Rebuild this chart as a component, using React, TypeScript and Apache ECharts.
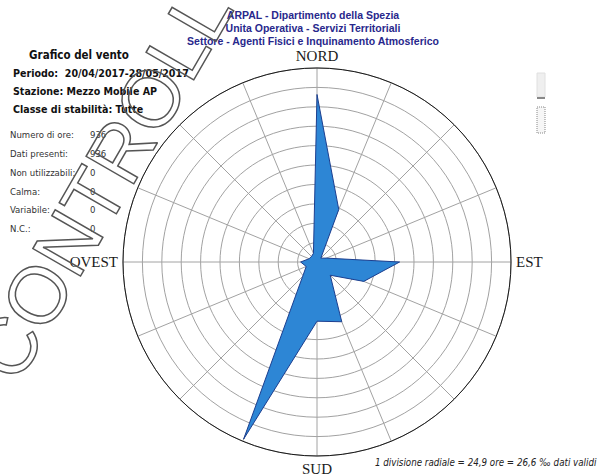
import React, { useEffect, useRef } from "react";
import * as echarts from "echarts";

// Wind rose: hours per sector (1 radial division = 24.9 hours)
const directions = ["N", "NNE", "NE", "ENE", "E", "ESE", "SE", "SSE", "S", "SSW", "SW", "WSW", "W", "WNW", "NW", "NNW"];
const sectorAngles = [0, 22.5, 45, 67.5, 90, 112.5, 135, 157.5, 180, 202.5, 225, 247.5, 270, 292.5, 315, 337.5];
const hoursPerSector = [215, 73, 7, 13, 106, 65, 24, 83, 76, 246, 26, 15, 21, 11, 10, 12];
const compassLabels: Record<number, string> = { 0: "NORD", 90: "EST", 180: "SUD", 270: "OVEST" };
const hoursPerDivision = 24.9;
const divisions = 10;

const headerLines = [
  "ARPAL - Dipartimento della Spezia",
  "Unita Operativa - Servizi Territoriali",
  "Settore - Agenti Fisici e Inquinamento Atmosferico",
];
const infoTitle = "Grafico del vento";
const infoBold = [
  "Periodo:  20/04/2017-28/05/2017",
  "Stazione: Mezzo Mobile AP",
  "Classe di stabilità: Tutte",
];
const statLabels = ["Numero di ore:", "Dati presenti:", "Non utilizzabili:", "Calma:", "Variabile:", "N.C.:"];
const statValues = ["936", "936", "0", "0", "0", "0"];
const footnote = "1 divisione radiale = 24,9 ore = 26,6 ‰ dati validi";

export default function App() {
  const ref = useRef<HTMLDivElement>(null);

  useEffect(() => {
    if (!ref.current) return;
    const chart = echarts.init(ref.current, null, { renderer: "svg" });

    const roseData = directions.map((_, i) => [hoursPerSector[i], sectorAngles[i]]);
    roseData.push([hoursPerSector[0], 360]);

    const sans = '"Liberation Sans", Arial, sans-serif';
    const tahoma = '"DejaVu Sans Condensed", "DejaVu Sans", sans-serif';

    const graphics: any[] = [];
    headerLines.forEach((t, i) => {
      graphics.push({
        type: "text",
        x: 313,
        y: 20 + i * 13,
        style: { text: t, fill: "#28288c", font: `bold 10.5px ${sans}`, textAlign: "center", textVerticalAlign: "bottom" },
      });
    });
    graphics.push({
      type: "text",
      x: 79,
      y: 61,
      style: { text: infoTitle, fill: "#111", font: `bold 11.5px ${tahoma}`, textAlign: "center", textVerticalAlign: "bottom" },
    });
    const boldY = [78, 96, 114];
    infoBold.forEach((t, i) => {
      graphics.push({
        type: "text",
        x: 13,
        y: boldY[i],
        style: { text: t, fill: "#111", font: `bold 10.6px ${tahoma}`, textAlign: "left", textVerticalAlign: "bottom" },
      });
    });
    const statY = [139, 158, 177, 196, 214, 233];
    statLabels.forEach((t, i) => {
      graphics.push({
        type: "text",
        x: 10,
        y: statY[i],
        style: { text: t, fill: "#333", font: `9.5px ${tahoma}`, textAlign: "left", textVerticalAlign: "bottom" },
      });
      graphics.push({
        type: "text",
        x: 90,
        y: statY[i],
        style: { text: statValues[i], fill: "#333", font: `9.5px ${tahoma}`, textAlign: "left", textVerticalAlign: "bottom" },
      });
    });
    graphics.push({
      type: "text",
      x: 375,
      y: 467,
      style: { text: footnote, fill: "#222", font: `italic 9.7px ${tahoma}`, textAlign: "left", textVerticalAlign: "bottom" },
    });
    // small window controls at the right edge
    graphics.push({ type: "rect", shape: { x: 537, y: 73, width: 8, height: 24 }, style: { fill: "#efefef", stroke: "#e0e0e0" } });
    graphics.push({ type: "rect", shape: { x: 537, y: 97, width: 8, height: 2 }, style: { fill: "#888" } });
    graphics.push({ type: "rect", shape: { x: 537, y: 107, width: 8, height: 26 }, style: { fill: "#f6f6f6", stroke: "#888", lineWidth: 1, lineDash: [1, 1] } });
    // stamp overlay
    graphics.push({
      type: "text",
      x: 28,
      y: 392,
      rotation: (60 * Math.PI) / 180,
      z: 100,
      style: {
        text: "CONTROLLO",
        fill: "transparent",
        stroke: "#555555",
        lineWidth: 1.5,
        font: `80px ${sans}`,
        textAlign: "left",
        textVerticalAlign: "bottom",
      },
    });

    chart.setOption({
      animation: false,
      backgroundColor: "#ffffff",
      polar: { center: [317, 262], radius: 194 },
      angleAxis: {
        type: "value",
        min: 0,
        max: 360,
        interval: 22.5,
        startAngle: 90,
        clockwise: true,
        axisLine: { show: true, lineStyle: { color: "#1a1a1a", width: 1 } },
        axisTick: { show: false },
        splitLine: { show: true, lineStyle: { color: "#a2a2a2", width: 1 } },
        axisLabel: {
          show: true,
          margin: 5,
          color: "#1a1a1a",
          fontFamily: '"Liberation Serif", "Times New Roman", serif',
          fontSize: 15,
          formatter: (v: number) => compassLabels[v] ?? "",
        },
      },
      radiusAxis: {
        type: "value",
        min: 0,
        max: hoursPerDivision * divisions,
        interval: hoursPerDivision,
        axisLine: { show: false },
        axisTick: { show: false },
        axisLabel: { show: false },
        splitLine: { show: true, lineStyle: { color: "#a2a2a2", width: 1 } },
      },
      series: [
        {
          type: "line",
          coordinateSystem: "polar",
          data: roseData,
          symbol: "none",
          smooth: false,
          lineStyle: { color: "#1d3f8f", width: 1 },
          areaStyle: { color: "#2d86d5", opacity: 1 },
          z: 3,
        },
      ],
      graphic: graphics,
    });

    return () => chart.dispose();
  }, []);

  return <div ref={ref} style={{ position: "fixed", left: 0, top: 0, width: 600, height: 475 }} />;
}
